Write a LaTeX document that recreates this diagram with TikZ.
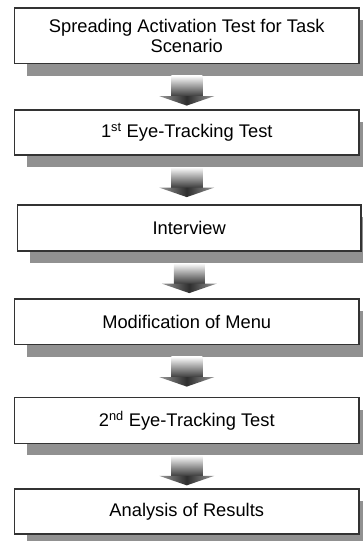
\documentclass[tikz,border=0pt]{standalone}
\usepackage{fontspec}
\setmainfont{Liberation Sans}
\usetikzlibrary{calc,shadows}

\tikzset{
  stagebox/.style={draw=black!80, line width=1.2pt, fill=white, inner sep=0pt,
    align=center, font=\fontsize{18.3}{20.5}\selectfont,
    drop shadow={shadow xshift=12pt, shadow yshift=-12pt, fill=black!43, opacity=1}},
  shaftfill/.style={top color=white, bottom color=black!78},
  headfill/.style={left color=black!40, right color=black!40, middle color=black!82},
}

% block arrow hanging below the shadow of a stage box, pointing at the next one
\newcommand\flowarrow[2]{%
  \path[shaftfill] let \p1=(#1.south), \p2=(#2.north) in
    (\x1-15.5pt,\y1-11.5pt) rectangle (\x1+15.5pt,\y1-32.5pt);
  \path[headfill] let \p1=(#1.south), \p2=(#2.north) in
    (\x1-27.5pt,\y1-32pt) -- (\x1+27.5pt,\y1-32pt) -- (\x1,\y1-41.5pt) -- cycle;
}

\begin{document}
\begin{tikzpicture}[x=1pt, y=-1pt]
  \useasboundingbox (0,0) rectangle (362,541);

  \node[stagebox, minimum width=344.5pt, minimum height=55.5pt] (s1) at (186.75,35.75)
    {Spreading Activation Test for Task\\Scenario};
  \node[stagebox, minimum width=344.5pt, minimum height=45pt] (s2) at (186.75,132.5)
    {1\textsuperscript{st} Eye-Tracking Test};
  \node[stagebox, minimum width=343.5pt, minimum height=46pt] (s3) at (189.25,228)
    {Interview};
  \node[stagebox, minimum width=344.5pt, minimum height=45.5pt] (s4) at (186.75,321.75)
    {Modification of Menu};
  \node[stagebox, minimum width=344.5pt, minimum height=45.5pt] (s5) at (186.75,420.5)
    {2\textsuperscript{nd} Eye-Tracking Test};
  \node[stagebox, minimum width=344.5pt, minimum height=45pt] (s6) at (186.75,511.5)
    {Analysis of Results};

  \flowarrow{s1}{s2}
  \flowarrow{s2}{s3}
  \flowarrow{s3}{s4}
  \flowarrow{s4}{s5}
  \flowarrow{s5}{s6}
\end{tikzpicture}
\end{document}
